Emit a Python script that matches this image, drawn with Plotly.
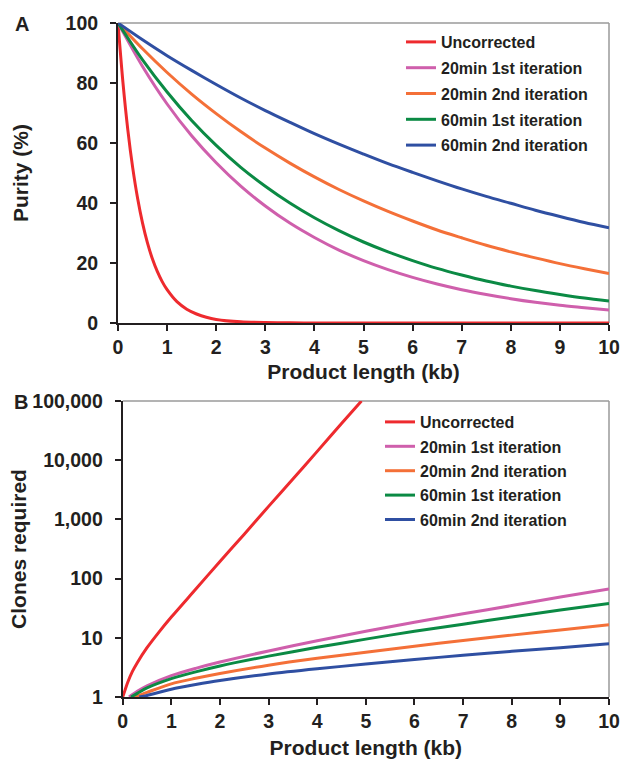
import plotly.graph_objects as go

# ---------------- data ----------------
series_names = ["Uncorrected", "20min 1st iteration", "20min 2nd iteration",
                "60min 1st iteration", "60min 2nd iteration"]
series_colors = ["#EE2A2E", "#CF5FAC", "#F47038", "#0B8A44", "#2F4FA2"]

# Panel A: purity (%) vs product length (kb)
x_red_a = [0, 0.1, 0.2, 0.3, 0.4, 0.5, 0.6, 0.7, 0.8, 0.9, 1.0, 1.2, 1.4, 1.6, 1.8, 2.0,
           2.5, 3.0, 3.5, 4.0, 5, 6, 7, 8, 9, 10]
purity_uncorrected = [100, 80.3, 64.4, 51.7, 41.5, 33.3, 26.7, 21.4, 17.2, 13.8, 11.1,
                      7.1, 4.6, 3.0, 1.9, 1.2, 0.4, 0.14, 0.05, 0.02, 0, 0, 0, 0, 0, 0]
x_a = [0, 0.5, 1, 1.5, 2, 2.5, 3, 3.5, 4, 4.5, 5, 5.5, 6, 6.5, 7, 7.5, 8, 8.5, 9, 9.5, 10]
purity_20_1 = [100, 85.5, 73.0, 62.4, 53.4, 45.6, 39.0, 33.3, 28.5, 24.3, 20.8,
               17.8, 15.2, 13.0, 11.1, 9.5, 8.1, 6.9, 5.9, 5.1, 4.3]
purity_20_2 = [100, 91.4, 83.5, 76.3, 69.8, 63.8, 58.3, 53.3, 48.7, 44.5, 40.7,
               37.2, 34.0, 31.0, 28.4, 25.9, 23.7, 21.7, 19.8, 18.1, 16.5]
purity_60_1 = [100, 87.7, 77.0, 67.5, 59.2, 51.9, 45.6, 40.0, 35.1, 30.8, 27.0,
               23.7, 20.8, 18.2, 16.0, 14.0, 12.3, 10.8, 9.5, 8.3, 7.3]
purity_60_2 = [100, 94.4, 89.1, 84.2, 79.5, 75.0, 70.8, 66.9, 63.1, 59.6, 56.3,
               53.1, 50.2, 47.4, 44.7, 42.2, 39.9, 37.6, 35.5, 33.5, 31.7]

# Panel B: clones required vs product length (kb)
x_red_b = [0, 0.05, 0.1, 0.2, 0.3, 0.5, 0.75, 1, 1.5, 2, 2.5, 3, 3.5, 4, 4.5, 4.91]
clones_uncorrected = [1, 1.32, 1.74, 2.7, 3.8, 6.8, 12.6, 22.4, 66, 195, 562, 1660,
                      4790, 14100, 41700, 100000]
x_20_1_b = [0.13, 0.3, 0.5, 1, 1.5, 2, 3, 4, 5, 6, 7, 8, 9, 10]
clones_20_1 = [1, 1.25, 1.55, 2.3, 3.05, 3.9, 6.0, 8.9, 12.9, 18.3, 25.5, 35, 49, 67]
x_20_2_b = [0.24, 0.5, 1, 1.5, 2, 3, 4, 5, 6, 7, 8, 9, 10]
clones_20_2 = [1, 1.2, 1.67, 2.07, 2.5, 3.45, 4.5, 5.7, 7.2, 9.0, 11.1, 13.6, 16.6]
x_60_1_b = [0.17, 0.3, 0.5, 1, 1.5, 2, 3, 4, 5, 6, 7, 8, 9, 10]
clones_60_1 = [1, 1.15, 1.42, 2.04, 2.66, 3.35, 4.9, 6.9, 9.5, 12.9, 17.0, 22.5, 29.5, 38]
x_60_2_b = [0.34, 0.5, 1, 1.5, 2, 3, 4, 5, 6, 7, 8, 9, 10]
clones_60_2 = [1, 1.06, 1.35, 1.62, 1.9, 2.45, 3.0, 3.6, 4.3, 5.06, 5.9, 6.8, 7.9]

x_ticks = [0, 1, 2, 3, 4, 5, 6, 7, 8, 9, 10]
purity_ticks = [0, 20, 40, 60, 80, 100]
clone_tickvals = [1, 10, 100, 1000, 10000, 100000]
clone_ticktext = ["1", "10", "100", "1,000", "10,000", "100,000"]

# ---------------- figure ----------------
W, H = 622, 759
FONT = "Liberation Sans, Arial, Helvetica, sans-serif"
TXT = "#231F20"

fig = go.Figure()

a_x = [x_red_a, x_a, x_a, x_a, x_a]
a_y = [purity_uncorrected, purity_20_1, purity_20_2, purity_60_1, purity_60_2]
b_x = [x_red_b, x_20_1_b, x_20_2_b, x_60_1_b, x_60_2_b]
b_y = [clones_uncorrected, clones_20_1, clones_20_2, clones_60_1, clones_60_2]

for i, name in enumerate(series_names):
    fig.add_trace(go.Scatter(
        x=a_x[i], y=a_y[i], name=name, mode="lines",
        line=dict(color=series_colors[i], width=3, shape="spline", smoothing=0.8),
        xaxis="x", yaxis="y", legend="legend", legendgroup="a%d" % i))
for i, name in enumerate(series_names):
    fig.add_trace(go.Scatter(
        x=b_x[i], y=b_y[i], name=name, mode="lines",
        line=dict(color=series_colors[i], width=3, shape="spline", smoothing=0.8),
        xaxis="x2", yaxis="y2", legend="legend2", legendgroup="b%d" % i))

tickfont = dict(family=FONT, size=19.5, color=TXT, weight="bold")
titlefont = dict(family=FONT, size=21, color=TXT, weight="bold")
legfont = dict(family=FONT, size=16, color=TXT, weight="bold")

def px_x(p):
    return p / W

def px_y(p):
    return 1 - p / H

common_x = dict(range=[0, 10], tickvals=x_ticks, ticks="outside", ticklen=6,
                tickwidth=2, tickcolor=TXT, showline=True, linecolor=TXT,
                linewidth=2, showgrid=False, zeroline=False, tickfont=tickfont,
                layer="below traces", automargin=False)
common_y = dict(ticks="outside", ticklen=6, tickwidth=2, tickcolor=TXT,
                showline=True, linecolor=TXT, linewidth=2, showgrid=False,
                zeroline=False, tickfont=tickfont, ticklabelstandoff=8,
                automargin=False)

fig.update_layout(
    template="none",
    width=W, height=H,
    margin=dict(l=0, r=0, t=0, b=0, pad=0),
    paper_bgcolor="white", plot_bgcolor="white",
    font=dict(family=FONT, color=TXT),
    xaxis=dict(common_x, domain=[px_x(118), px_x(609)], anchor="y",
               title=dict(text="Product length (kb)", font=titlefont, standoff=7)),
    yaxis=dict(common_y, domain=[px_y(323), px_y(23)], anchor="x",
               range=[0, 100], tickvals=purity_ticks,
               title=dict(text="Purity (%)", font=titlefont, standoff=31)),
    xaxis2=dict(common_x, domain=[px_x(122.7), px_x(609)], anchor="y2",
                title=dict(text="Product length (kb)", font=titlefont, standoff=10)),
    yaxis2=dict(common_y, domain=[px_y(697), px_y(401)], anchor="x2",
                type="log", range=[0, 5], tickvals=clone_tickvals,
                ticktext=clone_ticktext,
                title=dict(text="Clones required", font=titlefont, standoff=0)),
    legend=dict(x=px_x(401), y=px_y(25), xanchor="left", yanchor="top",
                font=legfont, tracegroupgap=2, bgcolor="rgba(0,0,0,0)", itemwidth=30),
    legend2=dict(x=px_x(380), y=px_y(405), xanchor="left", yanchor="top",
                 font=legfont, tracegroupgap=0.6, bgcolor="rgba(0,0,0,0)", itemwidth=30),
    showlegend=True,
    shapes=[
        dict(type="line", xref="x domain", yref="y domain", x0=0, x1=1, y0=1, y1=1,
             line=dict(color="#9A9A9A", width=1.5), layer="below"),
        dict(type="line", xref="x domain", yref="y domain", x0=1, x1=1, y0=0, y1=1,
             line=dict(color="#9A9A9A", width=1.5), layer="below"),
        dict(type="line", xref="x2 domain", yref="y2 domain", x0=0, x1=1, y0=1, y1=1,
             line=dict(color="#9A9A9A", width=1.5), layer="below"),
        dict(type="line", xref="x2 domain", yref="y2 domain", x0=1, x1=1, y0=0, y1=1,
             line=dict(color="#9A9A9A", width=1.5), layer="below"),
    ],
    annotations=[
        dict(text="A", x=px_x(22), y=px_y(24), xref="paper", yref="paper",
             showarrow=False, xanchor="center", yanchor="middle",
             font=dict(family=FONT, size=20, color=TXT, weight="bold")),
        dict(text="B", x=px_x(21), y=px_y(402), xref="paper", yref="paper",
             showarrow=False, xanchor="center", yanchor="middle",
             font=dict(family=FONT, size=20, color=TXT, weight="bold")),
    ],
)

fig.write_html(
    "out.html",
    config={"displayModeBar": False},
    post_script="document.body.style.margin='0';document.body.style.padding='0';"
                "document.documentElement.style.overflow='hidden';",
)
